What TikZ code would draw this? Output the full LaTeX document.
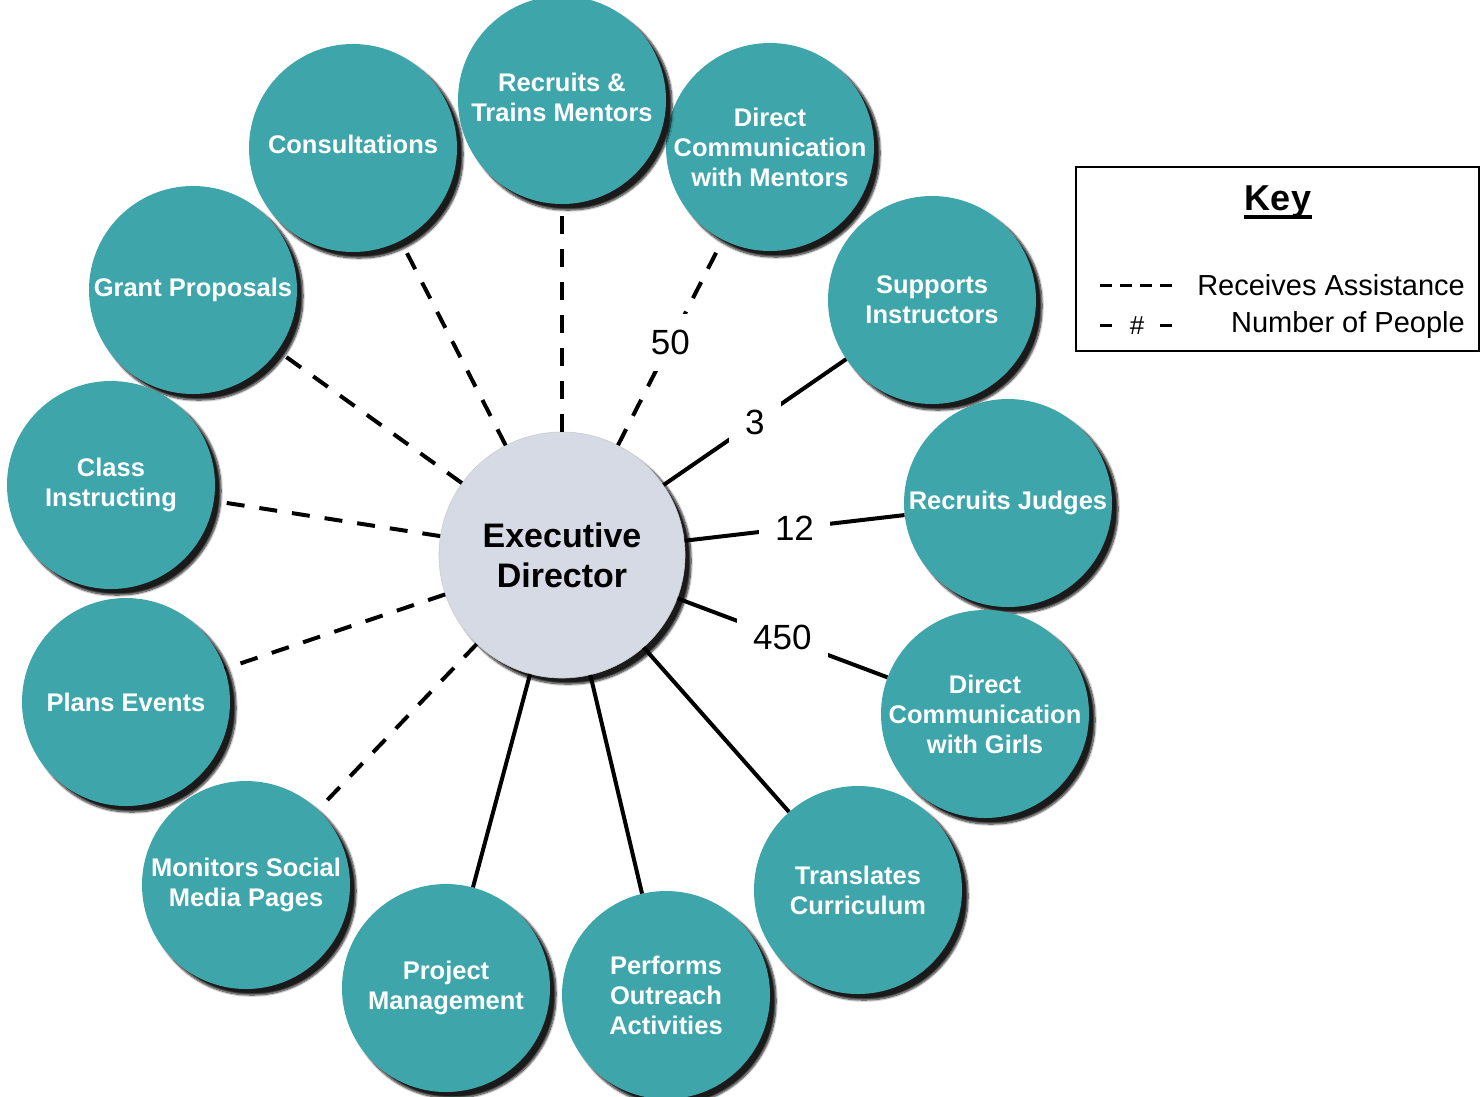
\documentclass[tikz,border=0pt]{standalone}
\usepackage{fontspec}
\setmainfont{Liberation Sans}
\usetikzlibrary{shadows.blur}
\definecolor{tealc}{HTML}{3EA6AA}
\definecolor{edfill}{HTML}{D5DAE4}
\tikzset{
  bubble/.style={circle, fill=tealc, minimum size=208pt, inner sep=0pt,
    blur shadow={shadow xshift=6pt, shadow yshift=-6pt, shadow blur steps=8, shadow blur extra rounding=2pt, shadow opacity=90}},
  btext/.style={text=white, font=\bfseries\fontsize{25.5}{30}\selectfont, align=center, inner sep=0pt},
  centre/.style={circle, fill=edfill, minimum size=246pt, inner sep=0pt, draw=gray!40, line width=0.6pt,
    blur shadow={shadow xshift=6pt, shadow yshift=-6pt, shadow blur steps=8, shadow blur extra rounding=2pt, shadow opacity=90}},
  ctext/.style={text=black, font=\bfseries\fontsize{34}{40}\selectfont, align=center, inner sep=0pt},
  solidlink/.style={line width=4pt, black},
  dashlink/.style={line width=4pt, black, dash pattern=on 18pt off 15pt},
  numlabel/.style={fill=white, inner sep=16pt, font=\fontsize{35}{40}\selectfont},
  keytext/.style={font=\fontsize{29}{32}\selectfont, inner sep=0pt, anchor=east},
}
\begin{document}
\begin{tikzpicture}[x=1pt, y=-1pt]
\useasboundingbox (0,0) rectangle (1481,1096);
% bubbles
\node[bubble] (grant) at (193,290) {};
\node[bubble] (cons) at (353,148) {};
\node[bubble] (dcm) at (770,147) {};
\node[bubble] (recr) at (562,100) {};
\node[bubble] (supp) at (932,300) {};
\node[bubble] (cls) at (111,485) {};
\node[bubble] (judg) at (1008,503) {};
\node[bubble] (plan) at (126,702) {};
\node[bubble] (dcg) at (985,714) {};
\node[bubble] (mon) at (246,885) {};
\node[bubble] (trans) at (858,890) {};
\node[bubble] (proj) at (446,988) {};
\node[bubble] (perf) at (666,995) {};
\node[centre] (ed) at (562,555) {};
% texts
\node[btext] (tgrant) at (grant) {Grant Proposals};
\node[btext] (tcons) at (353,144) {Consultations};
\node[btext] (tdcm) at (dcm) {Direct\\Communication\\with Mentors};
\node[btext] (trecr) at (562,97) {Recruits \&\\Trains Mentors};
\node[btext] (tsupp) at (supp) {Supports\\Instructors};
\node[btext] (tcls) at (cls) {Class\\Instructing};
\node[btext] (tjudg) at (judg) {Recruits Judges};
\node[btext] (tplan) at (plan) {Plans Events};
\node[btext] (tdcg) at (dcg) {Direct\\Communication\\with Girls};
\node[btext] (tmon) at (mon) {Monitors Social\\Media Pages};
\node[btext] (ttrans) at (trans) {Translates\\Curriculum};
\node[btext] (tproj) at (proj) {Project\\Management};
\node[btext] (tperf) at (perf) {Performs\\Outreach\\Activities};
\node[ctext] (ted) at (ed) {Executive\\Director};
% connectors
\draw[dashlink] (ed) -- (grant);
\draw[dashlink] (ed) -- (cons);
\draw[dashlink] (ed) -- (recr);
\draw[dashlink] (ed) -- (cls);
\draw[dashlink] (ed) -- (plan);
\draw[dashlink] (ed) -- (mon);
\draw[dashlink] (ed) -- node[numlabel] (n50) {50} (dcm);
\draw[solidlink] (ed) -- node[numlabel] (n3) {3} (supp);
\draw[solidlink] (ed) -- node[numlabel] (n12) {12} (judg);
\draw[solidlink] (ed) -- node[numlabel] (n450) {450} (dcg);
\draw[solidlink] (ed) -- (trans);
\draw[solidlink] (ed) -- (perf);
\draw[solidlink] (ed) -- (proj);
% key
\node[draw=black, line width=2pt, minimum width=403pt, minimum height=184pt, inner sep=0pt] (keybox) at (1277.5,259) {};
\node[font=\bfseries\fontsize{36}{40}\selectfont, inner sep=0pt, anchor=base] (keytitle) at (1278,210) {Key};
\coordinate (ku1) at (1244,217);
\coordinate (ku2) at (1312,217);
\draw[line width=3.5pt] (ku1) -- (ku2);
\coordinate (ka1) at (1100,285);
\coordinate (ka2) at (1172,285);
\draw[line width=3pt, dash pattern=on 12pt off 8pt] (ka1) -- (ka2);
\node[keytext] (krec) at (1465,285) {Receives Assistance};
\coordinate (kb1) at (1100,325);
\coordinate (kb2) at (1112,325);
\coordinate (kb3) at (1160,325);
\coordinate (kb4) at (1172,325);
\draw[line width=3pt] (kb1) -- (kb2);
\draw[line width=3pt] (kb3) -- (kb4);
\node[font=\fontsize{26}{30}\selectfont, inner sep=0pt] (khash) at (1137,326) {\#};
\node[keytext] (knum) at (1465,325) {Number of People};
\end{tikzpicture}
\end{document}
